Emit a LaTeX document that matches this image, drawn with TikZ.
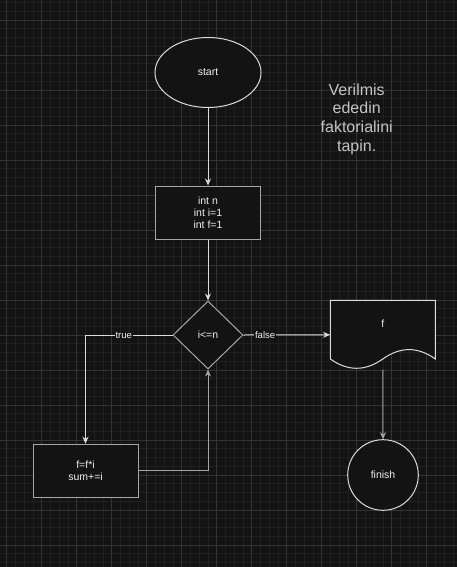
\documentclass[tikz,border=0pt]{standalone}
\usepackage{fontspec}
\setmainfont{Liberation Sans}
\usetikzlibrary{shapes.geometric,arrows.meta,calc,positioning}
\definecolor{bg}{HTML}{131313}
\definecolor{gridminor}{HTML}{1F1F1F}
\definecolor{gridmajor}{HTML}{333333}
\definecolor{strokelight}{HTML}{DCDCDC}
\definecolor{strokegray}{HTML}{A6A6A6}
\definecolor{txt}{HTML}{F0F0F0}
\definecolor{note}{HTML}{C4C4C4}
\begin{document}
\begin{tikzpicture}[x=1pt, y=-1pt,
        every node/.style={text=txt, font=\fontsize{10.5}{12.2}\selectfont},
        term/.style={ellipse, draw=strokelight, fill=bg, line width=1pt, minimum width=106pt, minimum height=70pt, inner sep=0pt},
        proc/.style={rectangle, draw=strokegray, fill=bg, line width=1pt, minimum width=105pt, minimum height=53pt, inner sep=0pt, align=center},
        decis/.style={diamond, draw=strokegray, fill=bg, line width=1pt, minimum width=70pt, minimum height=68pt, inner sep=0pt},
        endpt/.style={circle, draw=strokelight, fill=bg, line width=1pt, minimum size=70.6pt, inner sep=0pt},
        flow/.style={draw=strokelight, line width=1pt, -{Stealth[length=7pt,width=6pt]}},
        lbl/.style={fill=bg, inner sep=1pt, font=\fontsize{9.6}{11}\selectfont}]
        \useasboundingbox (0,0) rectangle (457,567);
        \fill[bg] (0,0) rectangle (457,567);
        \foreach \k in {0,...,51} \draw[gridminor, line width=0.8pt] ({6.7+8.75*\k},0) -- ++(0,567);
        \foreach \k in {0,...,64} \draw[gridminor, line width=0.8pt] (0,{2.5+8.75*\k}) -- ++(457,0);
        \foreach \k in {0,...,12} \draw[gridmajor, line width=0.8pt] ({6.7+35*\k},0) -- ++(0,567);
        \foreach \k in {0,...,15} \draw[gridmajor, line width=0.8pt] (0,{20+35*\k}) -- ++(457,0);

        \node[term] (ST) at (208, 72.5) {start};
        \node[proc] (IN) at (208, 212.5) {int n\\int i=1\\int f=1};
        \node[decis] (DC) at (208, 335) {i<=n};
        \node[proc] (CL) at (85.5, 470.7) {f=f*i\\sum+=i};
        \coordinate (DOC) at (330.3, 300.3);
        \draw[draw=strokelight, fill=bg, line width=1pt, shift={(DOC)}] (0,0) -- (105,0) -- (105,58.65)
                .. controls (87.5,46.2) and (70,46.2) .. (52.5,58.65)
                .. controls (35,71.1) and (17.5,71.1) .. (0,58.65) -- cycle;
        \node[rectangle, minimum width=105pt, minimum height=69pt, inner sep=0pt, label={[yshift=10.8pt]center:f}] (OUT) at (382.8, 334.8) {};
        \node[endpt] (FN) at (383, 475) {finish};
        \node[text=note, align=center, font=\fontsize{16}{18.7}\selectfont] (TT) at (356.7, 119) {Verilmis\\ededin\\faktorialini\\tapin.};

        \draw[flow] (ST) -- (IN);
        \draw[flow] (IN) -- (DC);
        \draw[flow] (DC.west) -| node[lbl, pos=0.28] {true} (CL.north);
        \draw[flow, draw=strokegray] (CL.east) -| (DC.south);
        \draw[flow] (DC.east) -- node[lbl, pos=0.25] {false} (OUT.west);
        \draw[flow, draw=strokegray] (OUT.south) -- (FN.north);
\end{tikzpicture}
\end{document}
